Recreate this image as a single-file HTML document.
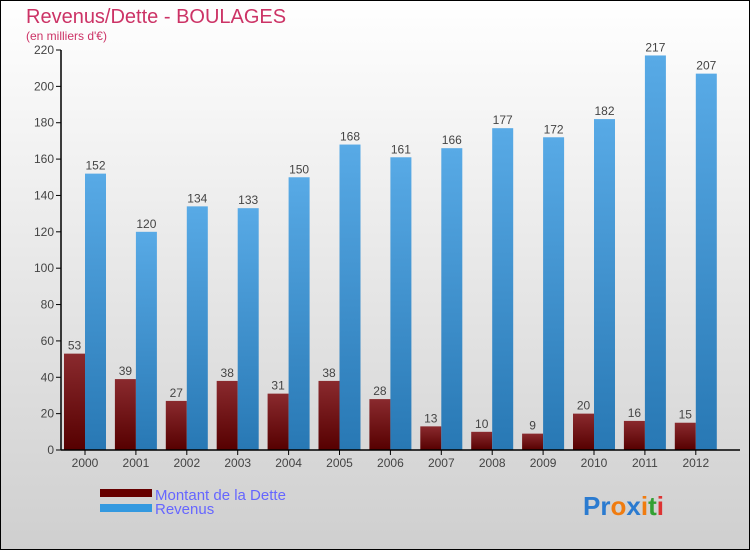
<!DOCTYPE html>
<html><head><meta charset="utf-8"><style>
body{margin:0}
#c{width:750px;height:550px;position:relative;font-family:"Liberation Sans",sans-serif}
</style></head><body>
<div id="c">
<svg width="750" height="550" xmlns="http://www.w3.org/2000/svg">
<defs>
<linearGradient id="bg" x1="0" y1="0" x2="0" y2="1"><stop offset="0" stop-color="#ffffff"/><stop offset="1" stop-color="#cfcfcf"/></linearGradient>
<linearGradient id="gd" x1="0" y1="0" x2="0" y2="1"><stop offset="0" stop-color="#8a2a2e"/><stop offset="1" stop-color="#560000"/></linearGradient>
<linearGradient id="gr" x1="0" y1="0" x2="0" y2="1"><stop offset="0" stop-color="#58aae6"/><stop offset="1" stop-color="#2878b4"/></linearGradient>
</defs>
<rect x="0.5" y="0.5" width="749" height="549" fill="url(#bg)" stroke="#000"/>
<text x="26" y="23" font-size="20" fill="#cc3366">Revenus/Dette - BOULAGES</text>
<text x="26" y="40" font-size="12" fill="#cc3366">(en milliers d'€)</text>
<g id="plot"></g>
<rect x="100" y="489" width="52" height="8" fill="#660000"/>
<rect x="100" y="504" width="52" height="8" fill="#3399e0"/>
<text x="155" y="500" font-size="15" fill="#6666ff">Montant de la Dette</text>
<text x="155" y="514" font-size="15" fill="#6666ff">Revenus</text>
<text x="583" y="515" font-size="26" font-weight="bold"><tspan fill="#2b7bd0">Pr</tspan><tspan fill="#f07c10">o</tspan><tspan fill="#2b7bd0">x</tspan><tspan fill="#f07c10">i</tspan><tspan fill="#33a033">t</tspan><tspan fill="#dd3333">i</tspan></text>
</svg>
</div>
<script>
const years=["2000","2001","2002","2003","2004","2005","2006","2007","2008","2009","2010","2011","2012"];
const dette=[53,39,27,38,31,38,28,13,10,9,20,16,15];
const revenus=[152,120,134,133,150,168,161,166,177,172,182,217,207];
const yTicks=[0,20,40,60,80,100,120,140,160,180,200,220];
const NS="http://www.w3.org/2000/svg";
const g=document.getElementById('plot');
const y0=450,yTop=50,yMax=220;
const yS=v=>y0-(v/yMax)*(y0-yTop);
const xC=i=>85+50.9*i;
function mk(t,a,p){const e=document.createElementNS(NS,t);for(const k in a)e.setAttribute(k,a[k]);(p||g).appendChild(e);return e;}
yTicks.forEach(v=>{
 const l=mk('line',{x1:56,x2:61,y1:yS(v),y2:yS(v),stroke:'#000'});
 
 
 const t=mk('text',{x:54,y:yS(v)+4,'font-size':12,fill:'#444','text-anchor':'end'});
 t.textContent=v;
 
 
});
years.forEach((yr,i)=>{
 const c=xC(i);
 const bd=mk('rect',{x:c-21,y:yS(dette[i]),width:21,height:y0-yS(dette[i]),fill:'url(#gd)'});
 
 
 const br=mk('rect',{x:c,y:yS(revenus[i]),width:21,height:y0-yS(revenus[i]),fill:'url(#gr)'});
 
 
 const td=mk('text',{x:c-10.5,y:yS(dette[i])-4,'font-size':12,fill:'#444','text-anchor':'middle'});
 td.textContent=dette[i];
 
 
 const tr=mk('text',{x:c+10.5,y:yS(revenus[i])-4,'font-size':12,fill:'#444','text-anchor':'middle'});
 tr.textContent=revenus[i];
 
 
 const tk=mk('line',{x1:c,x2:c,y1:y0,y2:y0+5,stroke:'#000'});
 
 
 const tl=mk('text',{x:c,y:467,'font-size':12,fill:'#444','text-anchor':'middle'});
 tl.textContent=yr;
 
 
});
const ya=mk('line',{x1:61,x2:61,y1:yTop,y2:y0,stroke:'#000','stroke-width':1.5});


const xa=mk('line',{x1:61,x2:740,y1:y0,y2:y0,stroke:'#000','stroke-width':1.5});


</script>
</body></html>
